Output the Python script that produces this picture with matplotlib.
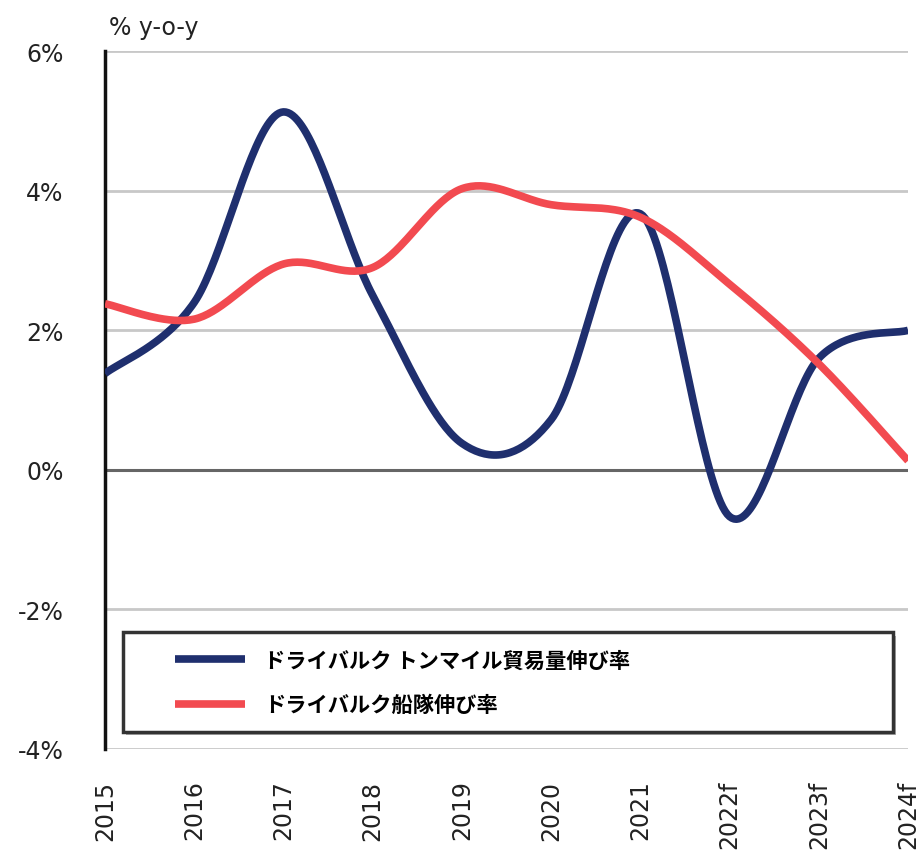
import matplotlib.pyplot as plt
from matplotlib.patches import Rectangle
import numpy as np

plt.rcParams['font.family'] = ['DejaVu Sans']

years = ['2015', '2016', '2017', '2018', '2019', '2020', '2021', '2022f', '2023f', '2024f']
tonmile = [1.38, 2.4, 5.13, 2.5, 0.38, 0.72, 3.67, -0.67, 1.6, 2.0]
fleet = [2.38, 2.16, 2.95, 2.9, 4.03, 3.8, 3.62, 2.66, 1.52, 0.13]

label_tm = 'ドライバルク トンマイル貿易量伸び率'
label_fl = 'ドライバルク船隊伸び率'


def smooth(y, n=40):
    # excel-like smoothed line (bezier through every point)
    y = np.asarray(y, dtype=float)
    x = np.arange(len(y), dtype=float)
    pts = np.column_stack([x, y])
    out = []
    for i in range(len(pts) - 1):
        p0 = pts[max(i - 1, 0)]
        p1 = pts[i]
        p2 = pts[i + 1]
        p3 = pts[min(i + 2, len(pts) - 1)]
        c1 = p1 + (p2 - p0) / 6
        c2 = p2 - (p3 - p1) / 6
        t = np.linspace(0, 1, n)[:, None]
        seg = ((1 - t) ** 3) * p1 + 3 * ((1 - t) ** 2) * t * c1 + 3 * (1 - t) * t ** 2 * c2 + t ** 3 * p2
        out.append(seg if i == 0 else seg[1:])
    out = np.vstack(out)
    return out[:, 0], out[:, 1]


fig = plt.figure(figsize=(9.19, 8.53), dpi=100)
ax = fig.add_axes([0.1143, 0.1208, 0.8738, 0.818])

for v in [6, 4, 2, -2, -4]:
    ax.axhline(v, color='#c8c8c8', lw=2, zorder=1)
ax.axhline(0, color='#666666', lw=2.2, zorder=1)

xs, ys = smooth(tonmile)
ax.plot(xs, ys, color='#1f2f6e', lw=5.5, label=label_tm, solid_capstyle='butt', zorder=3)
xs, ys = smooth(fleet)
ax.plot(xs, ys, color='#f24a50', lw=5.5, label=label_fl, solid_capstyle='butt', zorder=3)

ax.set_xlim(0, len(years) - 1)
ax.set_ylim(-4, 6)
ax.set_xticks(range(len(years)))
ax.set_xticklabels(years, rotation=90, fontsize=17, color='#222222')
ax.set_yticks([6, 4, 2, 0, -2, -4])
ax.set_yticklabels(['6%', '4%', '2%', '0%', '-2%', '-4%'], fontsize=17, color='#222222')
ax.tick_params(axis='both', length=0)
ax.tick_params(axis='y', pad=30)
ax.tick_params(axis='x', pad=22)
for s in ['top', 'right', 'bottom']:
    ax.spines[s].set_visible(False)
ax.spines['left'].set_color('#111111')
ax.spines['left'].set_linewidth(2.5)

ax.text(0.005, 1.035, '% y-o-y', transform=ax.transAxes, fontsize=17, color='#222222', va='center')

# legend frame drawn by hand (with a soft shadow)
bx, by, bw, bh = 0.0224, 0.0244, 0.959, 0.143
ax.add_patch(Rectangle((bx + 0.004, by - 0.005), bw, bh, transform=ax.transAxes,
                       facecolor='#b0b0b0', edgecolor='none', zorder=4))
ax.add_patch(Rectangle((bx, by), bw, bh, transform=ax.transAxes,
                       facecolor='white', edgecolor='#333333', lw=2.5, zorder=5))

leg = ax.legend(loc='upper left', bbox_to_anchor=(0.087, 0.142),
                prop={'family': ['Noto Sans CJK JP', 'DejaVu Sans'], 'weight': 'bold', 'size': 15.3},
                handlelength=3.3, handletextpad=0.9, borderpad=0, labelspacing=1.1,
                frameon=False, borderaxespad=0)
leg.set_zorder(6)

fig.savefig('out.png', dpi=100)
